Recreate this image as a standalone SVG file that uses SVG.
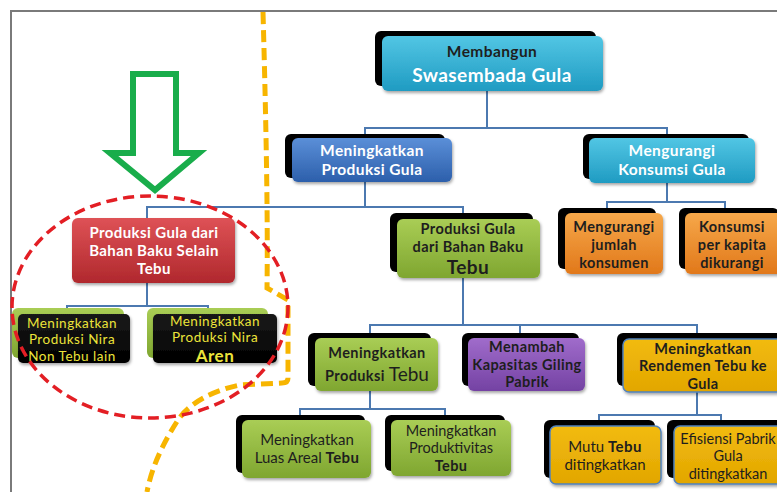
<svg xmlns="http://www.w3.org/2000/svg" width="777" height="492" viewBox="0 0 777 492">
<style>
text{font-family:Lato,"Open Sans","Liberation Sans",sans-serif;text-anchor:middle;font-size:14.5px}
.b{font-weight:bold;letter-spacing:0.4px}
.w{fill:#ffffff}
.d{fill:#1e1e1e}
.y{fill:#ece43a;font-size:13.5px;letter-spacing:0.5px}
.sh{fill:#000000}
.box{filter:url(#ds)}
.big{font-size:19px}
.conn line{stroke:#4c79b0;stroke-width:2}
</style>
<defs>
<filter id="ds" x="-10%" y="-10%" width="130%" height="140%">
<feDropShadow dx="1" dy="2" stdDeviation="1.5" flood-color="#000" flood-opacity="0.35"/>
</filter>
<linearGradient id="gCyan" x1="0" y1="0" x2="0" y2="1"><stop offset="0" stop-color="#52c6e4"/><stop offset="1" stop-color="#1f9bc2"/></linearGradient>
<linearGradient id="gBlue" x1="0" y1="0" x2="0" y2="1"><stop offset="0" stop-color="#5b8fd8"/><stop offset="1" stop-color="#2c5fab"/></linearGradient>
<linearGradient id="gGreen" x1="0" y1="0" x2="0" y2="1"><stop offset="0" stop-color="#a9cd55"/><stop offset="1" stop-color="#7fa630"/></linearGradient>
<linearGradient id="gOrange" x1="0" y1="0" x2="0" y2="1"><stop offset="0" stop-color="#f6a84a"/><stop offset="1" stop-color="#e1781a"/></linearGradient>
<linearGradient id="gRed" x1="0" y1="0" x2="0" y2="1"><stop offset="0" stop-color="#de5256"/><stop offset="1" stop-color="#b0282d"/></linearGradient>
<linearGradient id="gPurple" x1="0" y1="0" x2="0" y2="1"><stop offset="0" stop-color="#a06ccb"/><stop offset="1" stop-color="#7442a3"/></linearGradient>
<linearGradient id="gGold" x1="0" y1="0" x2="0" y2="1"><stop offset="0" stop-color="#f2bb10"/><stop offset="1" stop-color="#e2a600"/></linearGradient>
<linearGradient id="gBlack" x1="0" y1="0" x2="0" y2="1"><stop offset="0" stop-color="#1a1a1a"/><stop offset="1" stop-color="#000000"/></linearGradient>
</defs>
<rect width="777" height="492" fill="#ffffff"/>
<g id="frame" stroke="#7a7a7a" stroke-width="2" fill="none">
<line x1="11" y1="11" x2="777" y2="11"/>
<line x1="11" y1="10" x2="11" y2="492"/>
</g>

<g id="connectors" class="conn">
<line x1="487" y1="91" x2="487" y2="128"/>
<line x1="364" y1="128" x2="668" y2="128"/>
<line x1="365" y1="128" x2="365" y2="138"/>
<line x1="667" y1="128" x2="667" y2="138"/>
<line x1="365" y1="182" x2="365" y2="207"/>
<line x1="146" y1="207" x2="464" y2="207"/>
<line x1="147" y1="207" x2="147" y2="218"/>
<line x1="463" y1="207" x2="463" y2="219"/>
<line x1="667" y1="183" x2="667" y2="202"/>
<line x1="606" y1="202" x2="726" y2="202"/>
<line x1="607" y1="202" x2="607" y2="213"/>
<line x1="725" y1="202" x2="725" y2="213"/>
<line x1="147" y1="283" x2="147" y2="306"/>
<line x1="66" y1="306" x2="209" y2="306"/>
<line x1="67" y1="306" x2="67" y2="314"/>
<line x1="208" y1="306" x2="208" y2="314"/>
<line x1="463" y1="278" x2="463" y2="325"/>
<line x1="369" y1="325" x2="698" y2="325"/>
<line x1="370" y1="325" x2="370" y2="338"/>
<line x1="520" y1="325" x2="520" y2="338"/>
<line x1="697" y1="325" x2="697" y2="339"/>
<line x1="370" y1="391" x2="370" y2="409"/>
<line x1="299" y1="409" x2="446" y2="409"/>
<line x1="300" y1="409" x2="300" y2="420"/>
<line x1="445" y1="409" x2="445" y2="420"/>
<line x1="697" y1="392" x2="697" y2="415"/>
<line x1="598" y1="415" x2="722" y2="415"/>
<line x1="599" y1="415" x2="599" y2="426"/>
<line x1="721" y1="415" x2="721" y2="426"/>
</g>

<g id="root">
<rect class="sh" x="375" y="31" width="221" height="55" rx="6"/>
<rect class="box" x="382" y="36" width="221" height="55" rx="6" fill="url(#gCyan)"/>
<text class="b d" x="492" y="57" style="font-size:15.5px">Membangun</text>
<text class="b w" x="492" y="82" style="font-size:19px">Swasembada Gula</text>
</g>

<g id="produksi-gula">
<rect class="sh" x="285" y="134" width="160" height="44" rx="6"/>
<rect class="box" x="292" y="138" width="160" height="44" rx="6" fill="url(#gBlue)"/>
<text class="b w" x="372" y="156" style="font-size:15.5px">Meningkatkan</text>
<text class="b w" x="372" y="175" style="font-size:15.5px">Produksi Gula</text>
</g>

<g id="mengurangi-konsumsi">
<rect class="sh" x="583" y="134" width="166" height="45" rx="6"/>
<rect class="box" x="589" y="138" width="166" height="45" rx="6" fill="url(#gCyan)"/>
<text class="b w" x="672" y="156" style="font-size:15.5px">Mengurangi</text>
<text class="b w" x="672" y="175" style="font-size:15.5px">Konsumsi Gula</text>
</g>

<g id="selain-tebu">
<rect class="box" x="72" y="218" width="163" height="65" rx="6" fill="url(#gRed)"/>
<text class="b w" x="154" y="238" style="font-size:15px">Produksi Gula dari</text>
<text class="b w" x="154" y="256" style="font-size:15px">Bahan Baku Selain</text>
<text class="b w" x="154" y="274" style="font-size:15px">Tebu</text>
</g>

<g id="bahan-tebu">
<rect class="sh" x="390" y="213" width="143" height="59" rx="6" fill="#0d1a3a"/>
<rect class="box" x="397" y="219" width="143" height="59" rx="6" fill="url(#gGreen)"/>
<text class="b d" x="468" y="234">Produksi Gula</text>
<text class="b d" x="468" y="251.5">dari Bahan Baku</text>
<text class="b d big" x="468" y="274">Tebu</text>
</g>

<g id="kurangi-konsumen">
<rect class="sh" x="558" y="208" width="98" height="61" rx="6"/>
<rect class="box" x="565" y="213" width="98" height="61" rx="6" fill="url(#gOrange)"/>
<text class="b d" x="614" y="232">Mengurangi</text>
<text class="b d" x="614" y="250">jumlah</text>
<text class="b d" x="614" y="268">konsumen</text>
</g>

<g id="konsumsi-kapita">
<rect class="sh" x="679" y="208" width="100" height="61" rx="6"/>
<rect class="box" x="685" y="213" width="100" height="61" rx="6" fill="url(#gOrange)"/>
<text class="b d" x="732" y="232">Konsumsi</text>
<text class="b d" x="732" y="250">per kapita</text>
<text class="b d" x="732" y="268">dikurangi</text>
</g>

<g id="nira-non-tebu">
<rect x="12" y="308" width="112" height="50" rx="6" fill="url(#gGreen)"/>
<rect class="box" x="18" y="314" width="112" height="49" rx="5" fill="url(#gBlack)"/>
<text class="y" x="72" y="327.5">Meningkatkan</text>
<text class="y" x="72" y="344">Produksi Nira</text>
<text class="y" x="72" y="360.5">Non Tebu lain</text>
</g>

<g id="nira-aren">
<rect x="147" y="308" width="121" height="50" rx="6" fill="url(#gGreen)"/>
<rect class="box" x="153" y="314" width="124" height="49" rx="5" fill="url(#gBlack)"/>
<text class="y" x="215" y="325.5">Meningkatkan</text>
<text class="y" x="215" y="342">Produksi Nira</text>
<text class="b y" x="215" y="361.5" style="font-size:17px">Aren</text>
</g>

<g id="produksi-tebu">
<rect class="sh" x="308" y="333" width="123" height="53" rx="6"/>
<rect class="box" x="315" y="338" width="123" height="53" rx="6" fill="url(#gGreen)"/>
<text class="b d" x="377" y="358">Meningkatkan</text>
<text class="b d" x="377" y="381">Produksi <tspan style="font-size:19px;font-weight:normal;letter-spacing:0">Tebu</tspan></text>
</g>

<g id="kapasitas-giling">
<rect class="sh" x="462" y="333" width="117" height="53" rx="6"/>
<rect class="box" x="468" y="338" width="117" height="53" rx="6" fill="url(#gPurple)"/>
<text class="b d" x="527" y="352">Menambah</text>
<text class="b d" x="527" y="369.5">Kapasitas Giling</text>
<text class="b d" x="527" y="387">Pabrik</text>
</g>

<g id="rendemen">
<rect class="sh" x="617" y="333" width="165" height="53" rx="6"/>
<rect class="box" x="623" y="339" width="165" height="53" rx="6" fill="url(#gGold)" stroke="#4f81bd" stroke-width="1.5"/>
<text class="b d" x="703" y="353.5">Meningkatkan</text>
<text class="b d" x="703" y="371">Rendemen Tebu ke</text>
<text class="b d" x="703" y="388.5">Gula</text>
</g>

<g id="luas-areal">
<rect class="sh" x="236" y="415" width="129" height="58" rx="6"/>
<rect class="box" x="242" y="420" width="129" height="58" rx="6" fill="url(#gGreen)"/>
<text class="d" x="307" y="445" style="font-size:15px">Meningkatkan</text>
<text class="d" x="307" y="463" style="font-size:15px">Luas Areal <tspan class="b">Tebu</tspan></text>
</g>

<g id="produktivitas">
<rect class="sh" x="385" y="415" width="120" height="56" rx="6"/>
<rect class="box" x="391" y="420" width="120" height="56" rx="6" fill="url(#gGreen)"/>
<text class="d" x="451" y="435.5">Meningkatkan</text>
<text class="d" x="451" y="453">Produktivitas</text>
<text class="b d" x="451" y="470.5">Tebu</text>
</g>

<g id="mutu-tebu">
<rect class="sh" x="544" y="420" width="111" height="58" rx="6"/>
<rect class="box" x="550" y="426" width="111" height="58" rx="6" fill="url(#gGold)" stroke="#4f81bd" stroke-width="1.5"/>
<text class="d" x="605" y="452" style="font-size:15px">Mutu <tspan class="b">Tebu</tspan></text>
<text class="d" x="605" y="470" style="font-size:15px">ditingkatkan</text>
</g>

<g id="efisiensi">
<rect class="sh" x="667" y="420" width="115" height="58" rx="6"/>
<rect class="box" x="674" y="426" width="115" height="58" rx="6" fill="url(#gGold)" stroke="#4f81bd" stroke-width="1.5"/>
<text class="d" x="728" y="443.5">Efisiensi Pabrik</text>
<text class="d" x="728" y="461">Gula</text>
<text class="d" x="728" y="478.5">ditingkatkan</text>
</g>

<g id="highlight-arrow">
<polygon points="133,74 176,74 176,153 199,153 155,190 110,153 133,153" fill="none" stroke="#19ad4b" stroke-width="6" stroke-linejoin="miter"/>
</g>

<g id="divider">
<path d="M263,12 C266,120 268,220 267,288 L288,300 L288,378 Q288,383 282,383 L240,385 C215,390 190,402 178,420 C165,440 152,465 147,492" fill="none" stroke="#f7b500" stroke-width="5" stroke-dasharray="12 6"/>
</g>

<g id="focus-ellipse">
<ellipse cx="150" cy="307" rx="138" ry="111" fill="none" stroke="#e31e24" stroke-width="3.5" stroke-dasharray="11 6"/>
</g>
</svg>
